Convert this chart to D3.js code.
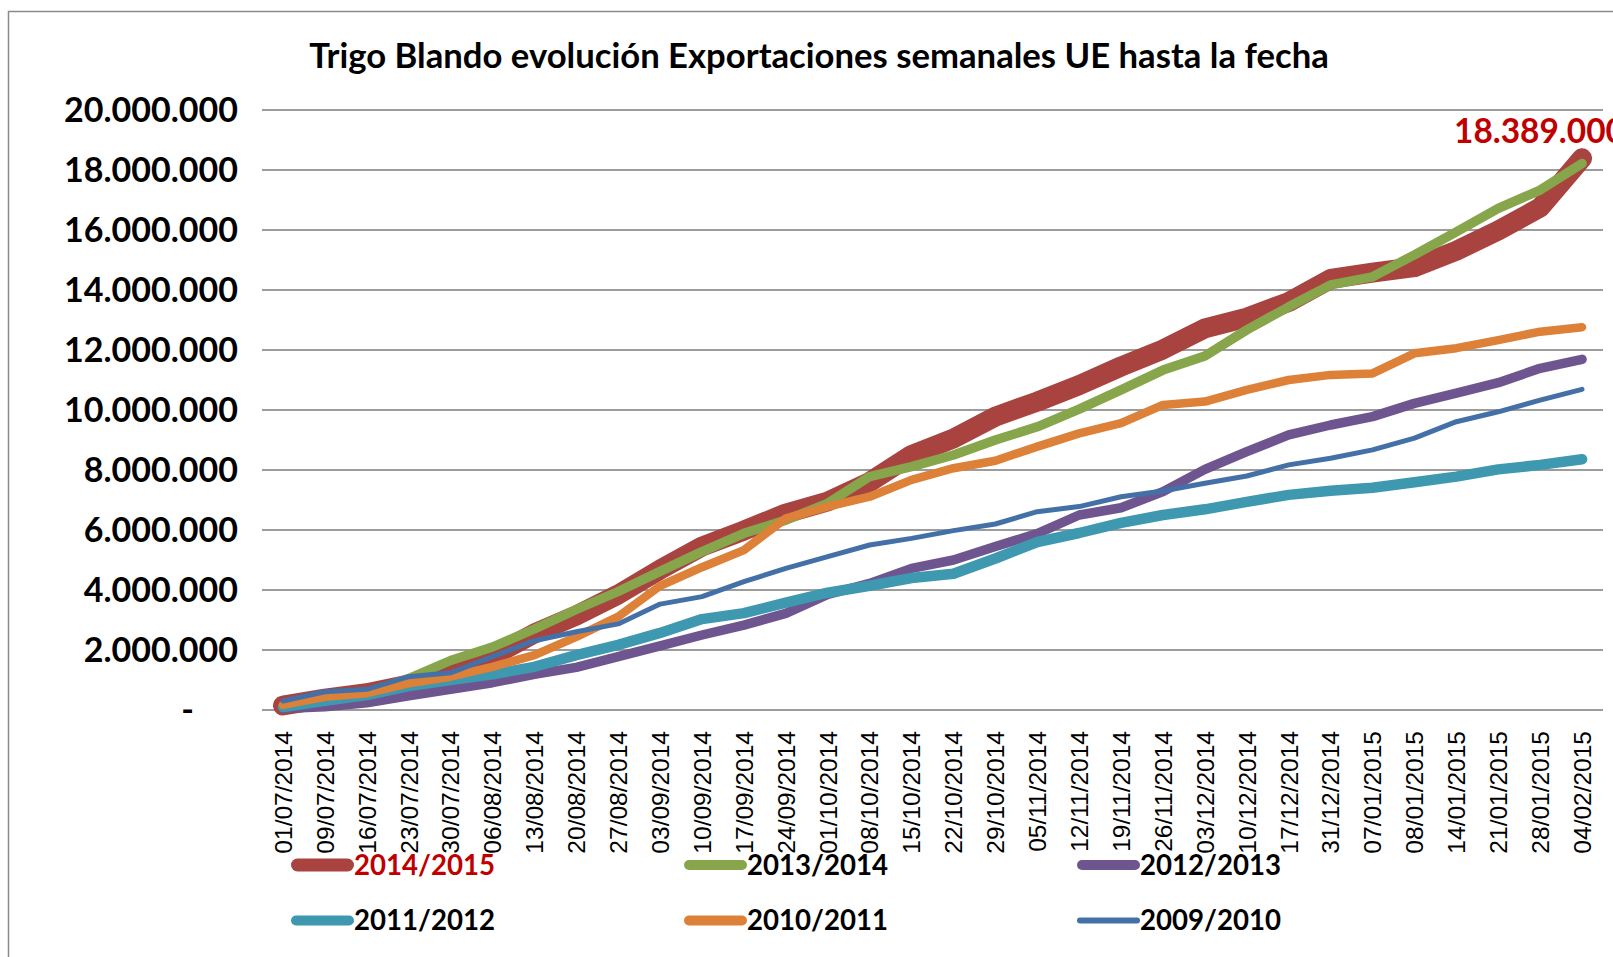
<!DOCTYPE html>
<html lang="es">
  <head>
    <meta charset="UTF-8" />
    <title>Trigo Blando</title>
    <script src="https://cdn.jsdelivr.net/npm/d3@7"></script>
    <style>
      html,
      body {
        margin: 0;
        padding: 0;
        background: #fff;
      }
      svg {
        display: block;
      }
    </style>
  </head>
  <body>
    <svg width="1613" height="957"></svg>
    <script>
      // weekly cumulative EU soft wheat exports, tonnes
      const dates = [
        '01/07/2014', '09/07/2014', '16/07/2014', '23/07/2014', '30/07/2014', '06/08/2014',
        '13/08/2014', '20/08/2014', '27/08/2014', '03/09/2014', '10/09/2014', '17/09/2014',
        '24/09/2014', '01/10/2014', '08/10/2014', '15/10/2014', '22/10/2014', '29/10/2014',
        '05/11/2014', '12/11/2014', '19/11/2014', '26/11/2014', '03/12/2014', '10/12/2014',
        '17/12/2014', '31/12/2014', '07/01/2015', '08/01/2015', '14/01/2015', '21/01/2015',
        '28/01/2015', '04/02/2015'
      ];

      const campaigns = ['2014/2015', '2013/2014', '2012/2013', '2011/2012', '2010/2011', '2009/2010'];

      const s2014 = [150000, 380000, 560000, 850000, 1180000, 1800000, 2550000, 3150000, 3850000, 4680000,
        5450000, 5980000, 6550000, 6950000, 7600000, 8500000, 9050000, 9780000, 10280000, 10830000,
        11450000, 12020000, 12720000, 13080000, 13600000, 14370000, 14580000, 14760000, 15310000,
        15980000, 16750000, 18389000];
      const s2013 = [100000, 300000, 550000, 1050000, 1650000, 2100000, 2700000, 3350000, 3950000, 4620000,
        5280000, 5890000, 6330000, 6890000, 7780000, 8110000, 8500000, 9000000, 9440000, 10030000,
        10670000, 11330000, 11800000, 12670000, 13440000, 14170000, 14440000, 15170000, 15940000,
        16720000, 17330000, 18220000];
      const s2012 = [50000, 110000, 240000, 470000, 690000, 910000, 1190000, 1420000, 1780000, 2140000,
        2500000, 2830000, 3220000, 3850000, 4220000, 4720000, 5000000, 5450000, 5880000, 6500000,
        6740000, 7280000, 8020000, 8610000, 9170000, 9500000, 9780000, 10220000, 10560000,
        10910000, 11390000, 11690000];
      const s2011 = [100000, 310000, 500000, 800000, 1000000, 1190000, 1440000, 1830000, 2170000, 2570000,
        3030000, 3230000, 3580000, 3910000, 4140000, 4400000, 4540000, 5050000, 5600000, 5900000,
        6240000, 6500000, 6690000, 6940000, 7170000, 7310000, 7410000, 7590000, 7780000,
        8020000, 8170000, 8360000];
      const s2010 = [170000, 440000, 560000, 890000, 1110000, 1440000, 1830000, 2440000, 3110000, 4140000,
        4760000, 5330000, 6390000, 6780000, 7110000, 7670000, 8060000, 8310000, 8780000, 9220000,
        9560000, 10170000, 10280000, 10670000, 11000000, 11170000, 11220000, 11890000, 12060000,
        12330000, 12610000, 12760000];
      const s2009 = [300000, 610000, 690000, 1110000, 1240000, 1780000, 2310000, 2610000, 2870000, 3530000,
        3780000, 4280000, 4720000, 5110000, 5500000, 5720000, 5980000, 6200000, 6610000, 6780000,
        7110000, 7300000, 7560000, 7800000, 8170000, 8390000, 8670000, 9060000, 9610000,
        9940000, 10330000, 10690000];

      const yTicks = [0, 2000000, 4000000, 6000000, 8000000, 10000000, 12000000, 14000000, 16000000, 18000000, 20000000];

      const title = 'Trigo Blando evolución Exportaciones semanales UE hasta la fecha';

      // styles
      const colors = ['#a84340', '#87a54a', '#6e558f', '#3e98b0', '#dd8038', '#4470a8'];
      const widths = [20, 9.5, 9.5, 10.5, 8.5, 5];
      const legendWidths = [13, 10, 10, 10, 10, 6];
      const values = [s2014, s2013, s2012, s2011, s2010, s2009];

      const svg = d3.select('svg');
      const bold = 'Lato, "Open Sans", sans-serif';

      // measure helper: font size so that a string spans a given width
      function fitSize(str, family, weight, target) {
        const t = svg.append('text')
          .attr('font-family', family)
          .attr('font-weight', weight)
          .attr('font-size', 100)
          .text(str);
        const w = t.node().getComputedTextLength();
        t.remove();
        return (100 * target) / w;
      }

      const locale = d3.formatLocale({ decimal: ',', thousands: '.', grouping: [3], currency: ['', ''] });
      const fmt = locale.format(',d');

      const x = d3.scalePoint().domain(dates).range([262, 1603]).padding(0.5);
      const y = d3.scaleLinear().domain([0, 20000000]).range([710, 110]);

      // outer frame (right / bottom edges fall outside the picture)
      svg.append('rect')
        .attr('x', 8.5)
        .attr('y', 11.5)
        .attr('width', 1700)
        .attr('height', 1000)
        .attr('fill', 'none')
        .attr('stroke', '#8a8a8a')
        .attr('stroke-width', 1.5);

      // title
      const titleSize = fitSize(title, bold, 700, 1020);
      svg.append('text')
        .attr('x', 819)
        .attr('y', 68)
        .attr('text-anchor', 'middle')
        .attr('font-family', bold)
        .attr('font-weight', 700)
        .attr('font-size', titleSize)
        .text(title);

      // grid
      svg.append('g')
        .selectAll('line')
        .data(yTicks)
        .join('line')
        .attr('x1', 262)
        .attr('x2', 1603)
        .attr('y1', d => y(d))
        .attr('y2', d => y(d))
        .attr('stroke', '#9c9c9c')
        .attr('stroke-width', 1.8);

      // y labels
      const ySize = fitSize('20.000.000', bold, 700, 174);
      svg.append('g')
        .selectAll('text')
        .data(yTicks)
        .join('text')
        .attr('x', d => (d === 0 ? 194 : 238))
        .attr('y', d => y(d) + ySize * 0.36)
        .attr('text-anchor', 'end')
        .attr('font-family', bold)
        .attr('font-weight', 700)
        .attr('font-size', ySize)
        .text(d => (d === 0 ? '-' : fmt(d)));

      // x labels, rotated
      svg.append('g')
        .selectAll('text')
        .data(dates)
        .join('text')
        .attr('transform', d => `translate(${x(d)},731) rotate(-90)`)
        .attr('dy', '0.36em')
        .attr('text-anchor', 'end')
        .attr('font-family', '"Liberation Sans", Arial, sans-serif')
        .attr('font-size', 24.5)
        .text(d => d);

      // series
      const line = d3.line()
        .x((d, i) => x(dates[i]))
        .y(d => y(d));

      svg.append('g')
        .selectAll('path')
        .data(values)
        .join('path')
        .attr('d', d => line(d))
        .attr('fill', 'none')
        .attr('stroke', (d, i) => colors[i])
        .attr('stroke-width', (d, i) => widths[i])
        .attr('stroke-linecap', 'round')
        .attr('stroke-linejoin', 'round');

      // label of the latest value
      const last = s2014[s2014.length - 1];
      svg.append('text')
        .attr('x', 1454)
        .attr('y', 143)
        .attr('font-family', bold)
        .attr('font-weight', 700)
        .attr('font-size', fitSize('18.389.000', bold, 700, 171))
        .attr('fill', '#c00000')
        .text(fmt(last));

      // legend
      const legSize = fitSize('2014/2015', bold, 700, 141);
      const leg = svg.append('g')
        .selectAll('g')
        .data(campaigns)
        .join('g')
        .attr('transform', (d, i) => `translate(${291 + (i % 3) * 393},${i < 3 ? 865 : 920.5})`);

      leg.append('line')
        .attr('x1', (d, i) => legendWidths[i] / 2)
        .attr('x2', (d, i) => 63 - legendWidths[i] / 2)
        .attr('stroke', (d, i) => colors[i])
        .attr('stroke-width', (d, i) => legendWidths[i])
        .attr('stroke-linecap', 'round');

      leg.append('text')
        .attr('x', 63)
        .attr('y', legSize * 0.36)
        .attr('font-family', bold)
        .attr('font-weight', 700)
        .attr('font-size', legSize)
        .attr('fill', (d, i) => (i === 0 ? '#c00000' : '#000'))
        .text(d => d);
    </script>
  </body>
</html>
